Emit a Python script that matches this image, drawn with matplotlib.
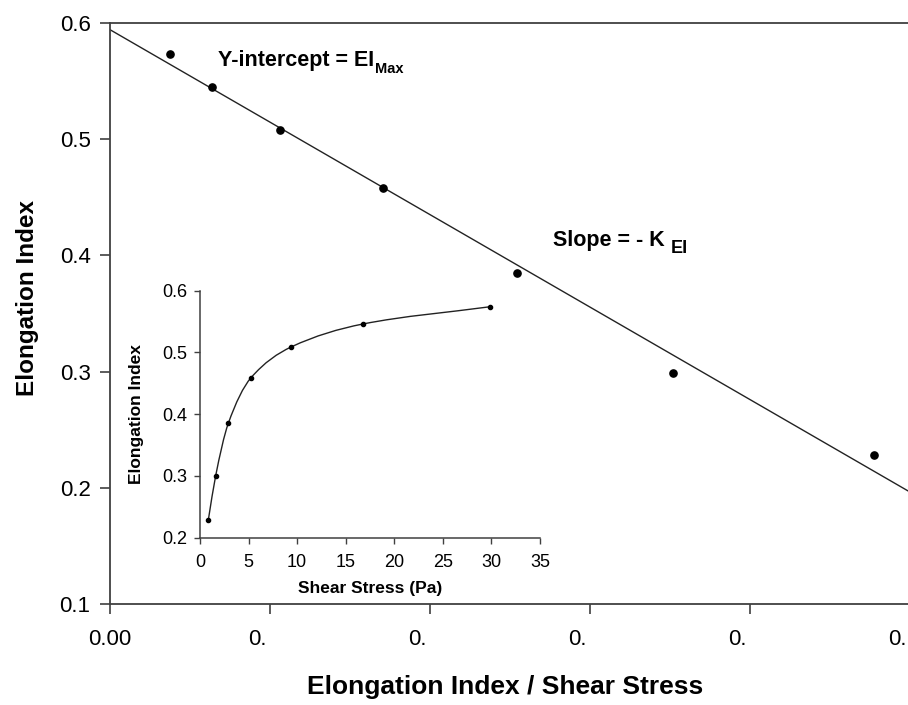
import numpy as np
import matplotlib
matplotlib.use("Agg")
import matplotlib.pyplot as plt
from matplotlib.path import Path
from matplotlib.patches import PathPatch
from matplotlib.transforms import ScaledTranslation

plt.rcParams["font.family"] = ["Liberation Sans", "DejaVu Sans"]

# Linearised plot: Elongation Index vs Elongation Index / Shear Stress
ratio_x = [0.0188, 0.0319, 0.0531, 0.0853, 0.1273, 0.1760, 0.2388]
ei_main = [0.573, 0.545, 0.508, 0.458, 0.385, 0.299, 0.228]

# Fitted line: intercept = EI_max, slope = -K_EI
ei_max = 0.594
k_ei = 1.59

x_ticks = [0.00, 0.05, 0.10, 0.15, 0.20, 0.25]
x_tick_labels = ["0.00", "0.", "0.", "0.", "0.", "0."]
y_ticks = [0.1, 0.2, 0.3, 0.4, 0.5, 0.6]

# Inset: Elongation Index vs Shear Stress
shear_stress = [0.86, 1.61, 2.91, 5.25, 9.40, 16.75, 29.85]
ei_inset = [0.229, 0.300, 0.385, 0.459, 0.509, 0.546, 0.574]

W, H = 908, 705
fig = plt.figure(figsize=(W / 100, H / 100), dpi=100)

def px_axes(left, top, right, bottom):
    return [left / W, 1 - bottom / H, (right - left) / W, (bottom - top) / H]

spine_col = "#404040"

# ---------------- main axes ----------------
ax = fig.add_axes(px_axes(110, 22.7, 910, 604.3))
ax.set_xlim(0, 0.25)
ax.set_ylim(0.1, 0.6)
for s in ax.spines.values():
    s.set_color(spine_col)
    s.set_linewidth(1.3)

ax.plot(ratio_x, ei_main, "o", color="black", markersize=5.2, zorder=3)
xs = np.array(ax.get_xlim())
ax.plot(xs, ei_max - k_ei * xs, color="#222222", linewidth=1.0, zorder=2)

ax.set_xticks(x_ticks)
ax.set_xticklabels(x_tick_labels)
ax.set_yticks(y_ticks)
ax.set_yticklabels([f"{v:.1f}" for v in y_ticks])
ax.tick_params(axis="both", direction="out", length=7, width=1.2, color=spine_col,
               labelsize=16)
ax.tick_params(axis="x", pad=11)
ax.tick_params(axis="y", pad=7)
ax.tick_params(right=False, top=False)

# truncated labels keep the left edge of a full-width label
for lbl in ax.get_xticklabels()[1:]:
    lbl.set_horizontalalignment("left")
    lbl.set_transform(lbl.get_transform() + ScaledTranslation(-22 / 100, 0, fig.dpi_scale_trans))

fig.text(505 / W, 1 - 687 / H, "Elongation Index / Shear Stress", ha="center", va="center",
         fontsize=19, fontweight="bold")
fig.text(28 / W, 1 - 298 / H, "Elongation Index", ha="center", va="center", rotation=90,
         fontsize=17.5, fontweight="bold")

# annotations
t1 = ax.text(0.0338, 0.5629, "Y-intercept = EI", fontsize=15.5, fontweight="bold",
             ha="left", va="baseline")
ax.annotate("Max", xy=(1, 0), xycoords=t1, xytext=(0.3, -1.5), textcoords="offset points",
            fontsize=10.5, fontweight="bold", ha="left", va="baseline")
t2 = ax.text(0.1384, 0.4083, "Slope = - K", fontsize=15.5, fontweight="bold",
             ha="left", va="baseline")
ax.annotate("EI", xy=(1, 0), xycoords=t2, xytext=(4.5, -1.5), textcoords="offset points",
            fontsize=13, fontweight="bold", ha="left", va="baseline")

# ---------------- inset axes ----------------
ins = fig.add_axes(px_axes(200, 290.7, 540, 537.7))
ins.set_facecolor("none")
ins.set_xlim(0, 35)
ins.set_ylim(0.2, 0.6)
ins.spines["top"].set_visible(False)
ins.spines["right"].set_visible(False)
for side in ("left", "bottom"):
    ins.spines[side].set_color(spine_col)
    ins.spines[side].set_linewidth(1.1)

ins.plot(shear_stress, ei_inset, "o", color="black", markersize=3, zorder=3)

# smooth monotone curve through the points (cubic Hermite segments as Bezier)
x = np.asarray(shear_stress)
y = np.asarray(ei_inset)
h = np.diff(x)
d = np.diff(y) / h
m = np.zeros_like(x)
m[0], m[-1] = d[0], d[-1]
for i in range(1, len(x) - 1):
    if d[i - 1] * d[i] > 0:
        w1 = 2 * h[i] + h[i - 1]
        w2 = h[i] + 2 * h[i - 1]
        m[i] = (w1 + w2) / (w1 / d[i - 1] + w2 / d[i])
verts = [(x[0], y[0])]
codes = [Path.MOVETO]
for i in range(len(x) - 1):
    verts += [(x[i] + h[i] / 3, y[i] + m[i] * h[i] / 3),
              (x[i + 1] - h[i] / 3, y[i + 1] - m[i + 1] * h[i] / 3),
              (x[i + 1], y[i + 1])]
    codes += [Path.CURVE4] * 3
ins.add_patch(PathPatch(Path(verts, codes), facecolor="none", edgecolor="#222222",
                        linewidth=1.0, zorder=2))

ins.set_xticks(np.arange(0, 36, 5))
ins.set_yticks([0.2, 0.3, 0.4, 0.5, 0.6])
ins.set_yticklabels(["0.2", "0.3", "0.4", "0.5", "0.6"])
ins.tick_params(axis="both", direction="out", length=4, width=1.0, color=spine_col,
                labelsize=13)
ins.tick_params(axis="x", pad=8)
ins.tick_params(axis="y", pad=5)
ins.set_xlabel("Shear Stress (Pa)", fontsize=12.5, fontweight="bold", labelpad=7)
ins.set_ylabel("Elongation Index", fontsize=12.5, fontweight="bold", labelpad=13)

fig.savefig("out.png", dpi=100)
